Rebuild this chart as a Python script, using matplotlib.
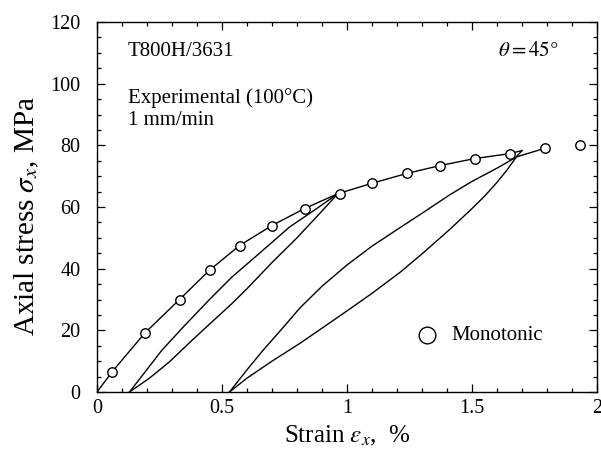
import matplotlib
matplotlib.use("Agg")
import matplotlib.pyplot as plt
from matplotlib.ticker import MultipleLocator

plt.rcParams['font.family'] = ['Liberation Serif', 'DejaVu Serif']
plt.rcParams['mathtext.fontset'] = 'stix'

# Monotonic test points (strain %, stress MPa)
mono_strain = [0.06, 0.19, 0.33, 0.45, 0.57, 0.70, 0.83, 0.97, 1.10, 1.24, 1.37, 1.51, 1.65, 1.79, 1.93]
mono_stress = [6.5, 19.0, 30.0, 39.5, 47.5, 54.0, 59.5, 64.2, 67.7, 70.9, 73.4, 75.7, 77.3, 79.0, 80.2]

# Cyclic experimental curve, segment by segment
load1_strain = [0.0, 0.06, 0.19, 0.33, 0.45, 0.57, 0.70, 0.83, 0.963]
load1_stress = [0.0, 6.5, 19.0, 30.0, 39.5, 47.5, 54.0, 59.5, 64.3]

unload1_strain = [0.963, 0.90, 0.80, 0.70, 0.60, 0.54, 0.45, 0.37, 0.29, 0.21, 0.13]
unload1_stress = [64.3, 58.7, 50.0, 42.0, 33.5, 28.7, 22.0, 16.0, 9.8, 4.5, 0.0]

reload1_strain = [0.13, 0.20, 0.26, 0.35, 0.45, 0.54, 0.65, 0.77, 0.87, 0.963,
                  1.10, 1.24, 1.37, 1.51, 1.65, 1.70]
reload1_stress = [0.0, 7.3, 13.6, 21.5, 30.0, 37.3, 45.0, 53.5, 59.0, 64.3,
                  67.7, 70.9, 73.4, 75.7, 77.3, 78.3]

unload2_strain = [1.70, 1.68, 1.64, 1.60, 1.55, 1.50, 1.412, 1.30, 1.212, 1.10, 1.00,
                  0.90, 0.812, 0.70, 0.60, 0.53]
unload2_stress = [78.3, 76.5, 72.0, 68.0, 63.5, 59.5, 52.8, 44.8, 38.8, 32.0, 26.3,
                  20.7, 15.8, 10.0, 4.5, 0.0]

reload2_strain = [0.53, 0.60, 0.665, 0.74, 0.812, 0.90, 1.00, 1.10, 1.212, 1.31, 1.412,
                  1.50, 1.60, 1.68, 1.79]
reload2_stress = [0.0, 7.2, 13.6, 20.5, 27.3, 34.3, 41.2, 47.3, 53.3, 58.5, 64.0,
                  68.3, 72.6, 76.3, 79.0]

x_ticks = [0, 0.5, 1, 1.5, 2]
x_ticklabels = ['0', '0.5', '1', '1.5', '2']
y_ticks = [0, 20, 40, 60, 80, 100, 120]

fig = plt.figure(figsize=(6.01, 4.66), dpi=100)
ax = fig.add_axes([97/601, 1-392/466, 500/601, 370/466])

for xs, ys in [(load1_strain, load1_stress), (unload1_strain, unload1_stress),
               (reload1_strain, reload1_stress), (unload2_strain, unload2_stress),
               (reload2_strain, reload2_stress)]:
    ax.plot(xs, ys, color='black', lw=1.0, zorder=2)

ax.plot(mono_strain, mono_stress, ls='none', marker='o', markersize=6.8,
        mfc='white', mec='black', mew=1.0, zorder=3, clip_on=False)

ax.set_xlim(0, 2)
ax.set_ylim(0, 120)
ax.set_xticks(x_ticks)
ax.set_xticklabels(x_ticklabels)
ax.set_yticks(y_ticks)
ax.xaxis.set_minor_locator(MultipleLocator(0.1))
ax.yaxis.set_minor_locator(MultipleLocator(5))
ax.tick_params(which='both', direction='in', top=True, right=True, labelsize=14.5, width=0.9)
ax.tick_params(which='major', length=6)
ax.tick_params(axis='x', which='major', pad=5)
ax.tick_params(axis='y', which='major', pad=12)
ax.tick_params(which='minor', length=3)
for s in ax.spines.values():
    s.set_linewidth(1.0)

ax.set_xlabel(r'Strain $\varepsilon_x$,  %', fontsize=18, labelpad=4)
ax.set_ylabel(r'Axial stress $\sigma_x$, MPa', fontsize=21)
ax.yaxis.set_label_coords(-0.112, 0.475)

ax.text(0.062, 0.919, 'T800H/3631', transform=ax.transAxes, fontsize=15, va='center', ha='left')
ax.text(0.062, 0.795, 'Experimental (100°C)', transform=ax.transAxes, fontsize=15, va='center', ha='left')
ax.text(0.062, 0.735, '1 mm/min', transform=ax.transAxes, fontsize=15, va='center', ha='left')
ax.text(0.922, 0.919, r'$\theta = 45°$', transform=ax.transAxes, fontsize=15, va='center', ha='right')

ax.plot([0.659], [0.154], transform=ax.transAxes, marker='o', markersize=12,
        mfc='white', mec='black', mew=1.0, ls='none')
ax.text(0.708, 0.154, 'Monotonic', transform=ax.transAxes, fontsize=15, va='center', ha='left')

fig.savefig('out.png', dpi=100)
